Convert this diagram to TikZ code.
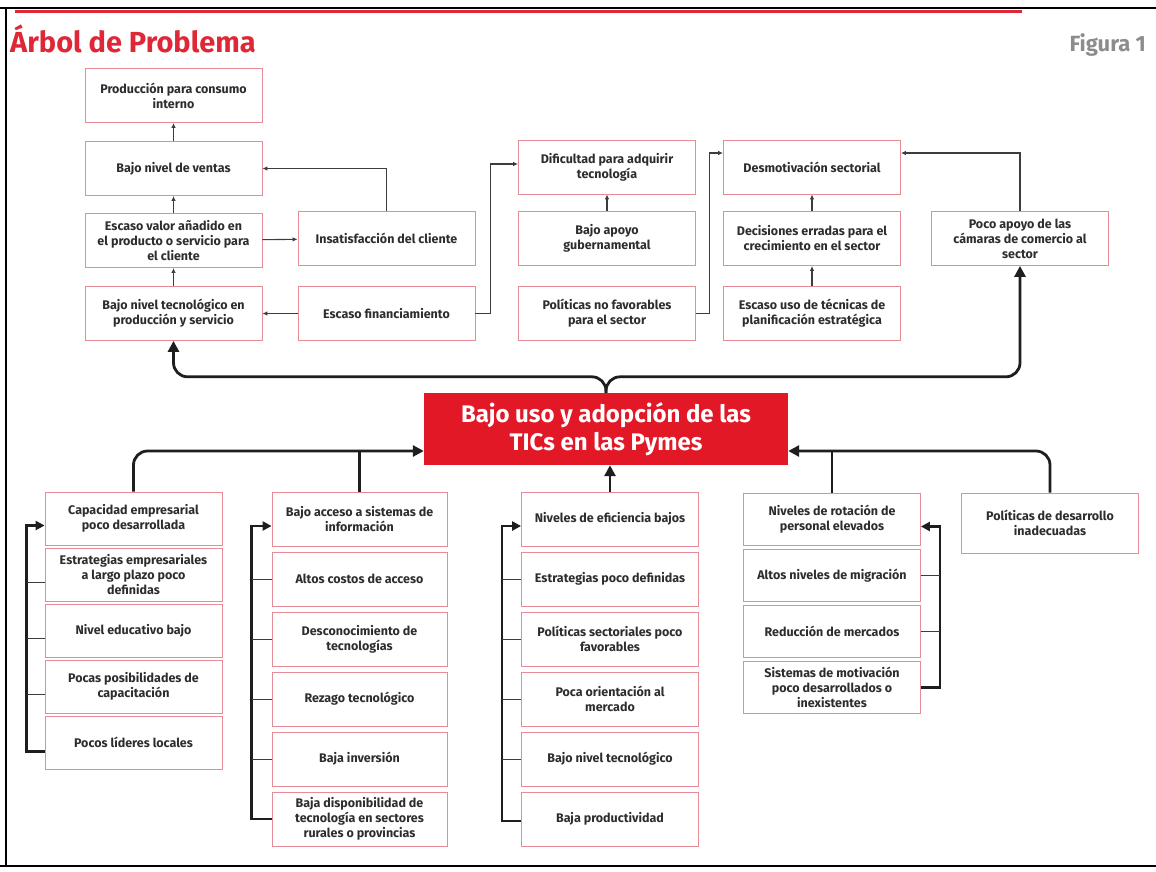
\documentclass[tikz,border=0pt]{standalone}
\usepackage{fontspec}
\setmainfont{Fira Sans}
\usepackage{tikz}
\usepackage{xcolor}
\usetikzlibrary{positioning, arrows.meta}

\definecolor{boxline}{RGB}{229,140,150}
\definecolor{corered}{RGB}{226,24,38}
\definecolor{titlered}{RGB}{222,40,55}
\definecolor{txt}{RGB}{45,45,45}
\definecolor{figgray}{RGB}{140,140,140}
\definecolor{wirecol}{RGB}{60,60,60}
\definecolor{heavycol}{RGB}{30,30,30}

\begin{document}
\begin{tikzpicture}[x=1pt, y=-1pt,
    prob/.style = {draw=boxline, line width=0.8pt, fill=white, minimum width=177pt, minimum height=54pt, align=center, inner sep=2pt, text=txt, font=\fontsize{12.5}{15}\selectfont\bfseries},
    core/.style = {fill=corered, minimum width=364pt, minimum height=72pt, align=center, text=white, font=\fontsize{24}{28}\selectfont\bfseries},
    wire/.style = {draw=wirecol, line width=1.1pt, -{Latex[length=5pt,width=4.5pt]}},
    heavy/.style = {draw=heavycol, line width=2.8pt, rounded corners=14pt, -{Triangle[length=11pt,width=11pt]}},
    heavyline/.style = {draw=heavycol, line width=2.8pt},
    brk/.style = {draw=heavycol, line width=2.4pt, -{Triangle[length=9pt,width=9pt]}},
    stub/.style = {draw=wirecol, line width=0.9pt}]
                        \useasboundingbox (0,0) rectangle (1156,871);
                        \draw[line width=2.5pt] (0,8) -- (1156,8);
                        \draw[line width=2.5pt] (6,8) -- (6,866);
                        \draw[line width=2pt] (0,866) -- (1156,866);
                        \draw[titlered, line width=3pt] (15,11.5) -- (1022,11.5);
                        \node[anchor=base west, inner sep=0pt, text=titlered, font=\fontsize{29}{33}\selectfont\bfseries] (title) at (10,52) {Árbol de Problema};
                        \node[anchor=base east, inner sep=0pt, text=figgray, font=\fontsize{22}{26}\selectfont\bfseries] (fig) at (1146,51) {Figura 1};

                        \node[core] (core) at (606,429) {Bajo uso y adopción de las\\TICs en las Pymes};

                        \node[prob] (b4) at (173.5,313.5) {Bajo nivel tecnológico en\\producción y servicio};
                        \node[prob] (b3) [above of=b4, node distance=73pt] {Escaso valor añadido en\\el producto o servicio para\\el cliente};
                        \node[prob] (b2) [above of=b3, node distance=72pt] {Bajo nivel de ventas};
                        \node[prob] (b1) [above of=b2, node distance=73pt] {Producción para consumo\\interno};
                        \node[prob] (insat) at (386.5,238.5) {Insatisfacción del cliente};
                        \node[prob] (finan) [below of=insat, node distance=75pt] {Escaso financiamiento};
                        \node[prob] (dific) at (607,167) {Dificultad para adquirir\\tecnología};
                        \node[prob] (apoyo) [below of=dific, node distance=71.5pt] {Bajo apoyo\\gubernamental};
                        \node[prob] (polit) [below of=apoyo, node distance=75pt] {Políticas no favorables\\para el sector};
                        \node[prob] (desmot) at (812,167) {Desmotivación sectorial};
                        \node[prob] (decis) [below of=desmot, node distance=71.5pt] {Decisiones erradas para el\\crecimiento en el sector};
                        \node[prob] (tecnic) [below of=decis, node distance=75pt] {Escaso uso de técnicas de\\planificación estratégica};
                        \node[prob] (camaras) at (1020,238.5) {Poco apoyo de las\\cámaras de comercio al\\sector};

                        \draw[wire] (b2) -- (b1);
                        \draw[wire] (b3) -- (b2);
                        \draw[wire] (b4) -- (b3);
                        \draw[wire] (b3) -- (insat);
                        \draw[wire] (finan) -- (b4);
                        \draw[wire] (insat.north) |- (b2.east);
                        \draw[wire] (finan.east) -- ++(15,0) |- ([yshift=3pt]dific.west);
                        \draw[wire] (apoyo) -- (dific);
                        \draw[wire] (polit.east) -- ++(14,0) |- ([yshift=14pt]desmot.west);
                        \draw[wire] (decis) -- (desmot);
                        \draw[wire] (tecnic) -- (decis);
                        \draw[wire] (camaras.north) |- ([yshift=14pt]desmot.east);

                        \draw[heavy] (core.north) -- ++(0,-16) -| (b4.south);
                        \draw[heavy] (core.north) -- ++(0,-16) -| (camaras.south);

                        \node[prob, minimum height=53pt] (a1) at (133.5,518.5) {Capacidad empresarial\\poco desarrollada};
                        \node[prob, minimum height=53pt] (a2) [below of=a1, node distance=56pt] {Estrategias empresariales\\a largo plazo poco\\definidas};
                        \node[prob, minimum height=53pt] (a3) [below of=a2, node distance=56pt] {Nivel educativo bajo};
                        \node[prob, minimum height=53pt] (a4) [below of=a3, node distance=56pt] {Pocas posibilidades de\\capacitación};
                        \node[prob, minimum height=53pt] (a5) [below of=a4, node distance=56pt] {Pocos líderes locales};

                        \node[prob, minimum width=175pt] (s1) at (359.5,519) {Bajo acceso a sistemas de\\información};
                        \node[prob, minimum width=175pt] (s2) [below of=s1, node distance=60pt] {Altos costos de acceso};
                        \node[prob, minimum width=175pt] (s3) [below of=s2, node distance=60pt] {Desconocimiento de\\tecnologías};
                        \node[prob, minimum width=175pt] (s4) [below of=s3, node distance=60pt] {Rezago tecnológico};
                        \node[prob, minimum width=175pt] (s5) [below of=s4, node distance=60pt] {Baja inversión};
                        \node[prob, minimum width=175pt] (s6) [below of=s5, node distance=60pt] {Baja disponibilidad de\\tecnología en sectores\\rurales o provincias};

                        \node[prob] (e1) at (610,519) {Niveles de eficiencia bajos};
                        \node[prob] (e2) [below of=e1, node distance=60pt] {Estrategias poco definidas};
                        \node[prob] (e3) [below of=e2, node distance=60pt] {Políticas sectoriales poco\\favorables};
                        \node[prob] (e4) [below of=e3, node distance=60pt] {Poca orientación al\\mercado};
                        \node[prob] (e5) [below of=e4, node distance=60pt] {Bajo nivel tecnológico};
                        \node[prob] (e6) [below of=e5, node distance=60pt] {Baja productividad};

                        \node[prob, minimum height=52pt] (r1) at (832,519.5) {Niveles de rotación de\\personal elevados};
                        \node[prob, minimum height=52pt] (r2) [below of=r1, node distance=56pt] {Altos niveles de migración};
                        \node[prob, minimum height=52pt] (r3) [below of=r2, node distance=56pt] {Reducción de mercados};
                        \node[prob, minimum height=52pt] (r4) [below of=r3, node distance=56pt] {Sistemas de motivación\\poco desarrollados o\\inexistentes};

                        \node[prob, minimum height=60pt] (pd) at (1050,523) {Políticas de desarrollo\\inadecuadas};

                        \coordinate (inL) at ([yshift=-22pt]core.west);
                        \coordinate (inR) at ([yshift=-22pt]core.east);
                        \draw[heavy] (a1.north) |- (inL);
                        \draw[heavyline] (s1.north) -- (s1.north |- inL);
                        \draw[heavy] (pd.north) |- (inR);
                        \draw[heavyline] (r1.north) -- (r1.north |- inR);
                        \draw[heavy] (e1.north) -- (e1.north |- core.south);

                        \draw[brk] ([yshift=-9pt]a5.west) -- ++(-18,0) |- ([yshift=-7pt]a1.west);
                        \foreach \n in {a2,a3,a4}
                            \draw[stub] ([yshift=-8pt]\n.west) -- ++(-18,0);
                        \draw[brk] (s6.west) -- ++(-20,0) |- ([yshift=-7pt]s1.west);
                        \foreach \n in {s2,s3,s4,s5}
                            \draw[stub] (\n.west) -- ++(-20,0);
                        \draw[brk] ([yshift=-2pt]e6.west) -- ++(-19,0) |- ([yshift=-7pt]e1.west);
                        \foreach \n in {e2,e3,e4,e5}
                            \draw[stub] (\n.west) -- ++(-19,0);
                        \draw[brk] (r4.east) -- ++(19,0) |- ([yshift=-7pt]r1.east);
                        \foreach \n in {r2,r3}
                            \draw[stub] (\n.east) -- ++(19,0);
                    \end{tikzpicture}
\end{document}
